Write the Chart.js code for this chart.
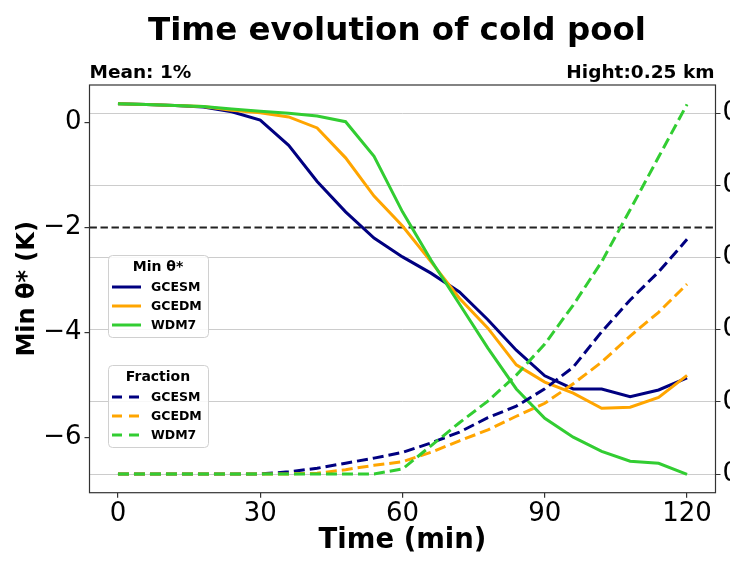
<!DOCTYPE html>
<html>
<head>
<meta charset="utf-8">
<title>Time evolution of cold pool</title>
<script src="https://cdn.jsdelivr.net/npm/chart.js@4.4.1/dist/chart.umd.min.js"></script>
<style>
  html, body { margin: 0; padding: 0; background: #ffffff; overflow: hidden; }
  #wrap { position: relative; width: 730px; height: 563px; }
</style>
</head>
<body>
<div id="wrap"><canvas id="chart" width="730" height="563"></canvas></div>
<script>
// Output times (min)
const times = [0, 6, 12, 18, 24, 30, 36, 42, 48, 54, 60, 66, 72, 78, 84, 90, 96, 102, 108, 114, 120];

// Minimum perturbation potential temperature (K)
const minThetaGCESM = [0.36, 0.35, 0.33, 0.30, 0.21, 0.05, -0.43, -1.12, -1.70, -2.20, -2.56, -2.87, -3.23, -3.76, -4.34, -4.83, -5.08, -5.08, -5.23, -5.10, -4.87];
const minThetaGCEDM = [0.36, 0.35, 0.33, 0.31, 0.24, 0.19, 0.11, -0.10, -0.67, -1.40, -1.97, -2.65, -3.35, -3.92, -4.62, -4.95, -5.16, -5.45, -5.43, -5.24, -4.82];
const minThetaWDM7  = [0.36, 0.35, 0.33, 0.31, 0.26, 0.22, 0.18, 0.13, 0.02, -0.64, -1.70, -2.62, -3.46, -4.30, -5.08, -5.64, -6.00, -6.27, -6.46, -6.50, -6.71];

// Cold-pool area fraction
const fracGCESM = [0, 0, 0, 0, 0, 0, 0.003, 0.008, 0.015, 0.022, 0.030, 0.043, 0.058, 0.078, 0.094, 0.118, 0.148, 0.197, 0.241, 0.280, 0.325];
const fracGCEDM = [0, 0, 0, 0, 0, 0, 0, 0.001, 0.006, 0.012, 0.017, 0.030, 0.046, 0.061, 0.080, 0.098, 0.125, 0.155, 0.191, 0.224, 0.263];
const fracWDM7  = [0, 0, 0, 0, 0, 0, 0, 0, 0, 0, 0.007, 0.039, 0.071, 0.101, 0.137, 0.180, 0.234, 0.294, 0.366, 0.439, 0.512];

// Axis settings
const timeTicks = [0, 30, 60, 90, 120];
const thetaTicks = [-6, -4, -2, 0];
const fracTicks = [0.0, 0.1, 0.2, 0.3, 0.4, 0.5];
const thetaThreshold = -2;

const schemes = ['GCESM', 'GCEDM', 'WDM7'];
const colors = ['#000080', '#FFA500', '#32CD32'];

const FONT = "'DejaVu Sans', 'Liberation Sans', sans-serif";

function pts(arr) { return times.map((t, i) => ({ x: t, y: arr[i] })); }

const thetaSeries = [minThetaGCESM, minThetaGCEDM, minThetaWDM7];
const fracSeries = [fracGCESM, fracGCEDM, fracWDM7];

const datasets = [];
thetaSeries.forEach((s, i) => datasets.push({
  label: schemes[i], group: 'theta', data: pts(s), yAxisID: 'y',
  borderColor: colors[i], backgroundColor: colors[i], borderWidth: 3,
  pointRadius: 0, tension: 0, fill: false
}));
fracSeries.forEach((s, i) => datasets.push({
  label: schemes[i], group: 'frac', data: pts(s), yAxisID: 'y1',
  borderColor: colors[i], backgroundColor: colors[i], borderWidth: 3,
  borderDash: [11, 5], pointRadius: 0, tension: 0, fill: false
}));
datasets.forEach((d, i) => { d.order = datasets.length - i; });

// Horizontal reference line at the threshold value
const thresholdLine = {
  id: 'thresholdLine',
  beforeDatasetsDraw(chart) {
    const { ctx, chartArea, scales } = chart;
    const y = scales.y.getPixelForValue(thetaThreshold);
    ctx.save();
    ctx.strokeStyle = '#222222';
    ctx.lineWidth = 2;
    ctx.setLineDash([7.4, 3.6]);
    ctx.beginPath();
    ctx.moveTo(chartArea.left, y);
    ctx.lineTo(chartArea.right, y);
    ctx.stroke();
    ctx.restore();
  }
};

// Two grouped legends, one per quantity
const groupedLegends = {
  id: 'groupedLegends',
  afterDatasetsDraw(chart) {
    const { ctx } = chart;
    const boxes = [
      { group: 'theta', title: 'Min \u03B8*', x: 108, y: 255, w: 100, h: 82, titleY: 267, rows: [287, 306, 325] },
      { group: 'frac', title: 'Fraction', x: 108, y: 365, w: 100, h: 82, titleY: 377, rows: [397, 416, 435] }
    ];
    boxes.forEach(b => {
      ctx.save();
      ctx.beginPath();
      ctx.roundRect(b.x + 0.5, b.y + 0.5, b.w, b.h, 4);
      ctx.fillStyle = 'rgba(255,255,255,0.85)';
      ctx.fill();
      ctx.strokeStyle = '#d0d0d0';
      ctx.lineWidth = 1;
      ctx.stroke();
      ctx.fillStyle = '#000';
      ctx.font = 'bold 14px ' + FONT;
      ctx.textAlign = 'center';
      ctx.textBaseline = 'middle';
      ctx.fillText(b.title, b.x + b.w / 2, b.titleY);
      const items = chart.data.datasets.filter(d => d.group === b.group);
      items.forEach((d, k) => {
        const yy = b.rows[k];
        ctx.strokeStyle = d.borderColor;
        ctx.lineWidth = 3;
        ctx.setLineDash(d.borderDash ? [10, 7] : []);
        ctx.beginPath();
        ctx.moveTo(112, yy);
        ctx.lineTo(141, yy);
        ctx.stroke();
        ctx.setLineDash([]);
        ctx.fillStyle = '#000';
        ctx.font = 'bold 12.5px ' + FONT;
        ctx.textAlign = 'left';
        ctx.fillText(d.label, 151, yy + 0.5);
      });
      ctx.restore();
    });
  }
};

// Plot frame and header texts
const frameAndHeader = {
  id: 'frameAndHeader',
  afterDraw(chart) {
    const { ctx, chartArea: a } = chart;
    ctx.save();
    ctx.strokeStyle = '#333333';
    ctx.lineWidth = 1.2;
    ctx.strokeRect(a.left, a.top, a.right - a.left, a.bottom - a.top);
    ctx.fillStyle = '#000';
    ctx.textBaseline = 'middle';
    ctx.font = 'bold 32.5px ' + FONT;
    ctx.textAlign = 'center';
    ctx.fillText('Time evolution of cold pool', 397, 32);
    ctx.font = 'bold 18.5px ' + FONT;
    ctx.textAlign = 'left';
    ctx.fillText('Mean: 1%', a.left, 73);
    ctx.textAlign = 'right';
    ctx.fillText('Hight:0.25 km', a.right - 1, 73);
    ctx.restore();
  }
};

function fixedTicks(values) {
  return function (scale) { scale.ticks = values.map(v => ({ value: v })); };
}

new Chart(document.getElementById('chart'), {
  type: 'line',
  data: { datasets },
  plugins: [thresholdLine, groupedLegends, frameAndHeader],
  options: {
    responsive: false,
    animation: false,
    devicePixelRatio: 1,
    layout: { padding: { top: 85, left: 0, right: 0, bottom: 0 } },
    plugins: { legend: { display: false }, tooltip: { enabled: false }, title: { display: false } },
    scales: {
      x: {
        type: 'linear', min: -6, max: 126,
        afterBuildTicks: fixedTicks(timeTicks),
        afterFit(s) { s.height = 70.3; },
        ticks: { font: { family: FONT, size: 26 }, color: '#000', maxRotation: 0, padding: 1 },
        grid: { drawOnChartArea: false, tickLength: 5, tickColor: '#333', lineWidth: 1.2 },
        border: { display: false },
        title: { display: true, text: 'Time (min)', color: '#000',
                 font: { family: FONT, size: 27.5, weight: 'bold' }, padding: { top: 0, bottom: 5.5 } }
      },
      y: {
        type: 'linear', position: 'left', min: -7.06, max: 0.72,
        afterBuildTicks: fixedTicks(thetaTicks),
        afterFit(s) { s.width = 89.5; },
        ticks: { font: { family: FONT, size: 26 }, color: '#000', padding: 3,
                 callback: v => String(v).replace('-', '\u2212') },
        grid: { drawOnChartArea: false, tickLength: 5, tickColor: '#333', lineWidth: 1.2 },
        border: { display: false },
        title: { display: true, text: 'Min \u03B8* (K)', color: '#000',
                 font: { family: FONT, size: 24, weight: 'bold' }, padding: { top: 13, bottom: 0 } }
      },
      y1: {
        type: 'linear', position: 'right', min: -0.0259, max: 0.5388,
        afterBuildTicks: fixedTicks(fracTicks),
        afterFit(s) { s.width = 14.5; },
        ticks: { font: { family: FONT, size: 26 }, color: '#000', padding: 2,
                 callback: v => Number(v).toFixed(1) },
        grid: { drawOnChartArea: true, color: '#cccccc', lineWidth: 1, tickLength: 5, tickColor: '#333' },
        border: { display: false }
      }
    }
  }
});
</script>
</body>
</html>
